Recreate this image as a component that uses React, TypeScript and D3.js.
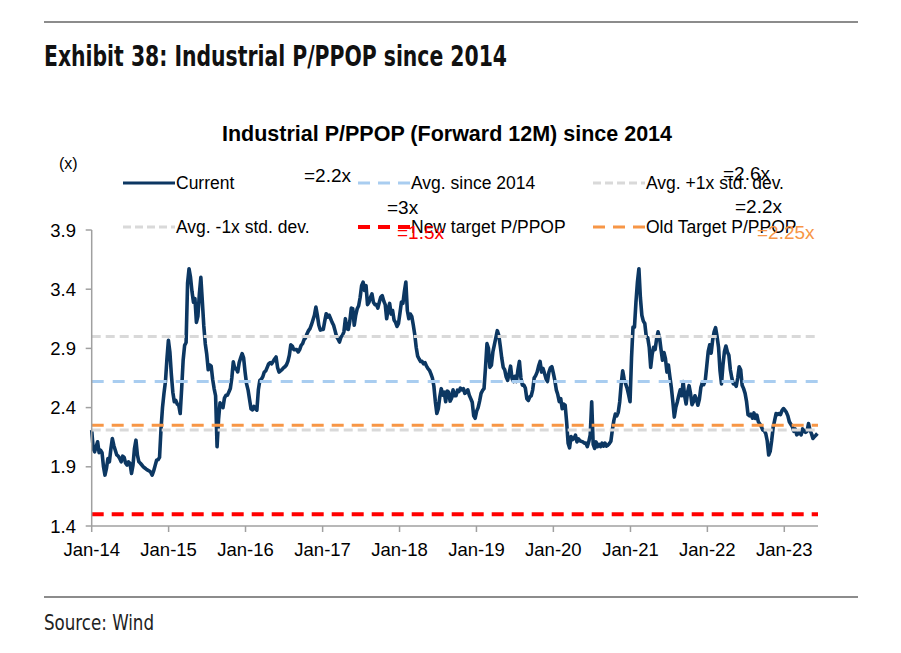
import React from "react";
import * as d3 from "d3";

// ---------------- DATA ----------------
const START_DATE = "2014-01-01";
const STEP_DAYS = 7; // weekly observations
const END_DATE = "2023-06-10";

const currentValues: number[] = [
  2.209, 2.055, 2.027, 2.07, 2.111, 2.02, 2.04, 2.02, 1.9, 1.83,
  1.886, 1.97, 1.942, 2.05, 2.139, 2.08, 2.04, 2.0, 1.99, 1.97,
  1.942, 1.99, 1.98, 1.93, 1.914, 1.942, 1.928, 1.844, 1.914, 2.055,
  2.125, 1.998, 1.942, 1.93, 1.915, 1.9, 1.89, 1.88, 1.872, 1.865,
  1.855, 1.83, 1.865, 1.91, 1.955, 1.96, 1.98, 2.22, 2.4, 2.52,
  2.62, 2.81, 2.968, 2.87, 2.68, 2.53, 2.45, 2.46, 2.43, 2.42,
  2.35, 2.56, 2.8, 2.926, 2.95, 3.45, 3.573, 3.5, 3.38, 3.29,
  3.32, 3.12, 3.17, 3.36, 3.5, 3.3, 3.09, 2.94, 2.85, 2.72,
  2.76, 2.75, 2.64, 2.561, 2.5, 2.069, 2.3, 2.44, 2.42, 2.4,
  2.48, 2.504, 2.504, 2.532, 2.561, 2.65, 2.786, 2.729, 2.73, 2.701,
  2.78, 2.82, 2.856, 2.82, 2.7, 2.6, 2.55, 2.47, 2.39, 2.38,
  2.41, 2.39, 2.378, 2.55, 2.63, 2.64, 2.66, 2.7, 2.71, 2.74,
  2.77, 2.78, 2.77, 2.79, 2.81, 2.828, 2.74, 2.7, 2.71, 2.72,
  2.735, 2.745, 2.76, 2.79, 2.842, 2.93, 2.92, 2.89, 2.89, 2.89,
  2.87, 2.89, 2.926, 2.94, 2.975, 2.99, 3.024, 3.05, 3.067, 3.1,
  3.14, 3.18, 3.25, 3.179, 3.095, 3.055, 3.06, 3.06, 3.13, 3.193,
  3.165, 3.18, 3.15, 3.12, 3.095, 3.05, 3.0, 2.98, 2.954, 2.995,
  3.01, 3.04, 3.151, 3.067, 3.06, 3.13, 3.24, 3.235, 3.095, 3.18,
  3.235, 3.26, 3.33, 3.43, 3.46, 3.39, 3.43, 3.27, 3.29, 3.33,
  3.36, 3.29, 3.27, 3.27, 3.24, 3.29, 3.334, 3.345, 3.3, 3.27,
  3.15, 3.235, 3.28, 3.19, 3.22, 3.14, 3.12, 3.085, 3.11, 3.2,
  3.291, 3.28, 3.38, 3.46, 3.22, 3.151, 3.19, 3.17, 3.1, 3.02,
  2.91, 2.835, 2.81, 2.79, 2.79, 2.77, 2.78, 2.75, 2.73, 2.715,
  2.685, 2.65, 2.58, 2.45, 2.35, 2.39, 2.49, 2.56, 2.505, 2.53,
  2.45, 2.54, 2.53, 2.455, 2.48, 2.55, 2.5, 2.5, 2.547, 2.535,
  2.565, 2.55, 2.56, 2.52, 2.532, 2.55, 2.505, 2.476, 2.445, 2.33,
  2.31, 2.37, 2.4, 2.455, 2.52, 2.545, 2.56, 2.74, 2.94, 2.9,
  2.74, 2.758, 2.87, 2.93, 2.99, 3.05, 3.011, 2.92, 2.82, 2.74,
  2.72, 2.66, 2.63, 2.69, 2.75, 2.645, 2.62, 2.665, 2.62, 2.72,
  2.79, 2.65, 2.59, 2.59, 2.565, 2.476, 2.46, 2.49, 2.5, 2.55,
  2.65, 2.67, 2.7, 2.75, 2.79, 2.7, 2.73, 2.69, 2.645, 2.62,
  2.7, 2.735, 2.745, 2.69, 2.63, 2.55, 2.51, 2.45, 2.476, 2.39,
  2.43, 2.42, 2.28, 2.1, 2.06, 2.155, 2.13, 2.139, 2.167, 2.11,
  2.135, 2.12, 2.115, 2.11, 2.1, 2.1, 2.07, 2.111, 2.17, 2.448,
  2.09, 2.055, 2.11, 2.07, 2.09, 2.07, 2.1, 2.075, 2.1, 2.075,
  2.083, 2.097, 2.115, 2.21, 2.29, 2.345, 2.33, 2.36, 2.45, 2.6,
  2.71, 2.64, 2.6, 2.565, 2.51, 2.45, 2.82, 3.08, 3.08, 3.29,
  3.46, 3.573, 3.33, 3.18, 3.13, 3.11, 3.0, 2.99, 2.91, 2.74,
  2.85, 2.91, 2.89, 2.98, 3.04, 2.99, 2.89, 2.8, 2.865, 2.814,
  2.7, 2.76, 2.66, 2.57, 2.45, 2.32, 2.4, 2.445, 2.5, 2.55,
  2.5, 2.62, 2.5, 2.43, 2.53, 2.585, 2.52, 2.425, 2.45, 2.5,
  2.47, 2.42, 2.47, 2.57, 2.61, 2.595, 2.63, 2.75, 2.875, 2.93,
  2.86, 2.97, 3.04, 3.075, 3.0, 2.91, 2.71, 2.6, 2.76, 2.875,
  2.92, 2.87, 2.842, 2.72, 2.65, 2.6, 2.6, 2.58, 2.65, 2.745,
  2.72, 2.589, 2.56, 2.52, 2.45, 2.34, 2.33, 2.345, 2.31, 2.355,
  2.308, 2.336, 2.28, 2.262, 2.24, 2.21, 2.205, 2.18, 2.12, 2.0,
  2.03, 2.12, 2.23, 2.29, 2.35, 2.34, 2.35, 2.34, 2.375, 2.392,
  2.378, 2.36, 2.33, 2.28, 2.26, 2.24, 2.2, 2.22, 2.17, 2.18,
  2.195, 2.17, 2.22, 2.2, 2.19, 2.2, 2.266, 2.21, 2.18, 2.139,
  2.155, 2.167, 2.181,
];

const seriesName = "Current";
const refKeys = ["avg", "plus1", "minus1", "newTarget", "oldTarget"];
const refLabels = [
  "Avg. since 2014",
  "Avg. +1x std. dev.",
  "Avg. -1x std. dev.",
  "New target P/PPOP",
  "Old Target P/PPOP",
];
const refValues = [2.62, 3.0, 2.21, 1.5, 2.25];

const yTickValues = [1.4, 1.9, 2.4, 2.9, 3.4, 3.9];
const xTickLabels = ["Jan-14", "Jan-15", "Jan-16", "Jan-17", "Jan-18", "Jan-19", "Jan-20", "Jan-21", "Jan-22", "Jan-23"];
const valueTags = ["=2.2x", "=2.6x", "=3x", "=1.5x", "=2.2x", "=2.25x"];

// ---------------- STYLE / LAYOUT ----------------
const W = 901;
const H = 653;
const PLOT = { left: 91.7, right: 818, top: 230, bottom: 526 };
const FONT = "'Liberation Sans', Arial, Helvetica, sans-serif";
const NARROW = "'Liberation Sans Narrow', 'Arial Narrow', 'DejaVu Sans Condensed', 'Liberation Sans', sans-serif";
const NAVY = "#0c3762";
const AXIS = "#a0a0a0";

const refStyles: Record<string, { color: string; width: number; dash: string; legendDash: string }> = {
  avg: { color: "#a9cdf0", width: 3, dash: "12 9", legendDash: "12 8" },
  plus1: { color: "#d9d9d9", width: 3, dash: "9 5", legendDash: "8 4" },
  minus1: { color: "#d9d9d9", width: 3, dash: "9 5", legendDash: "8 4" },
  newTarget: { color: "#ff0000", width: 4, dash: "12 8", legendDash: "12 8" },
  oldTarget: { color: "#f79646", width: 3, dash: "12 8", legendDash: "12 8" },
};

// legend slots: [lineStartX, rowY]
const legendSlots: [number, number][] = [
  [123, 183],
  [358, 183],
  [593, 183],
  [123, 227],
  [358, 227],
  [593, 227],
];
const tagPos: { x: number; y: number; color: string }[] = [
  { x: 304, y: 182, color: "#000" },
  { x: 723, y: 180, color: "#000" },
  { x: 387, y: 214, color: "#000" },
  { x: 397, y: 239, color: "#ff0000" },
  { x: 735, y: 213, color: "#000" },
  { x: 757, y: 239, color: "#f79646" },
];

const parse = d3.timeParse("%Y-%m-%d");

export default function App() {
  const start = parse(START_DATE) as Date;
  const end = parse(END_DATE) as Date;
  const data = currentValues.map((v, i) => ({ date: d3.timeDay.offset(start, i * STEP_DAYS), value: v }));

  const x = d3.scaleTime().domain([start, end]).range([PLOT.left, PLOT.right]);
  const y = d3.scaleLinear().domain([1.4, 3.9]).range([PLOT.bottom, PLOT.top]);
  const line = d3
    .line<{ date: Date; value: number }>()
    .x((d) => x(d.date))
    .y((d) => y(d.value));

  const xTicks = xTickLabels.map((_, i) => d3.timeYear.offset(start, i));

  const legendItems = [
    { label: seriesName, color: NAVY, width: 3, dash: "none" },
    ...refKeys.map((k, i) => ({
      label: refLabels[i],
      color: refStyles[k].color,
      width: refStyles[k].width,
      dash: refStyles[k].legendDash,
    })),
  ];

  return (
    <svg
      width={W}
      height={H}
      viewBox={`0 0 ${W} ${H}`}
      style={{ position: "absolute", left: 0, top: 0, background: "#fff" }}
    >
      <rect x={0} y={0} width={W} height={H} fill="#fff" />
      <line x1={44} x2={858} y1={22} y2={22} stroke="#8c8c8c" strokeWidth={2} />
      <text
        x={44}
        y={66}
        fontFamily={NARROW}
        fontWeight="bold"
        fontSize={28}
        fill="#111"
        textLength={463}
        lengthAdjust="spacingAndGlyphs"
      >
        Exhibit 38: Industrial P/PPOP since 2014
      </text>

      <text
        x={447}
        y={141}
        textAnchor="middle"
        fontFamily={FONT}
        fontWeight="bold"
        fontSize={21.5}
        fill="#000"
      >
        Industrial P/PPOP (Forward 12M) since 2014
      </text>
      <text x={59} y={169} fontFamily={FONT} fontSize={16} fill="#000">
        (x)
      </text>

      <path d={line(data) || ""} fill="none" stroke={NAVY} strokeWidth={3.6} strokeLinejoin="round" />

      {refKeys.map((k, i) => (
        <line
          key={k}
          x1={PLOT.left}
          x2={PLOT.right}
          y1={y(refValues[i])}
          y2={y(refValues[i])}
          stroke={refStyles[k].color}
          strokeWidth={refStyles[k].width}
          strokeDasharray={refStyles[k].dash}
        />
      ))}

      <line x1={PLOT.left} x2={PLOT.left} y1={PLOT.top} y2={PLOT.bottom} stroke={AXIS} strokeWidth={1.5} />
      {yTickValues.map((t) => (
        <g key={t}>
          <line x1={PLOT.left - 6} x2={PLOT.left} y1={y(t)} y2={y(t)} stroke={AXIS} strokeWidth={1.5} />
          <text x={76} y={y(t) + 6.5} textAnchor="end" fontFamily={FONT} fontSize={18.5} fill="#000">
            {t.toFixed(1)}
          </text>
        </g>
      ))}

      <line x1={PLOT.left} x2={PLOT.right} y1={PLOT.bottom} y2={PLOT.bottom} stroke={AXIS} strokeWidth={1.5} />
      {xTicks.map((d, i) => (
        <g key={i}>
          <line x1={x(d)} x2={x(d)} y1={PLOT.bottom} y2={PLOT.bottom + 6} stroke={AXIS} strokeWidth={1.5} />
          <text x={x(d)} y={556} textAnchor="middle" fontFamily={FONT} fontSize={18.5} fill="#000">
            {xTickLabels[i]}
          </text>
        </g>
      ))}

      {legendItems.map((it, i) => {
        const [lx, ly] = legendSlots[i];
        return (
          <g key={it.label}>
            <line
              x1={lx}
              x2={lx + 52}
              y1={ly}
              y2={ly}
              stroke={it.color}
              strokeWidth={it.width}
              strokeDasharray={it.dash}
            />
            <text x={lx + 53} y={ly + 6} fontFamily={FONT} fontSize={17.5} fill="#000">
              {it.label}
            </text>
          </g>
        );
      })}

      {valueTags.map((t, i) => (
        <text key={i} x={tagPos[i].x} y={tagPos[i].y} fontFamily={FONT} fontSize={19} fill={tagPos[i].color}>
          {t}
        </text>
      ))}

      <line x1={44} x2={858} y1={597} y2={597} stroke="#8c8c8c" strokeWidth={2} />
      <text
        x={44}
        y={630}
        fontFamily={NARROW}
        fontSize={22}
        fill="#222"
        textLength={110}
        lengthAdjust="spacingAndGlyphs"
      >
        Source: Wind
      </text>
    </svg>
  );
}
